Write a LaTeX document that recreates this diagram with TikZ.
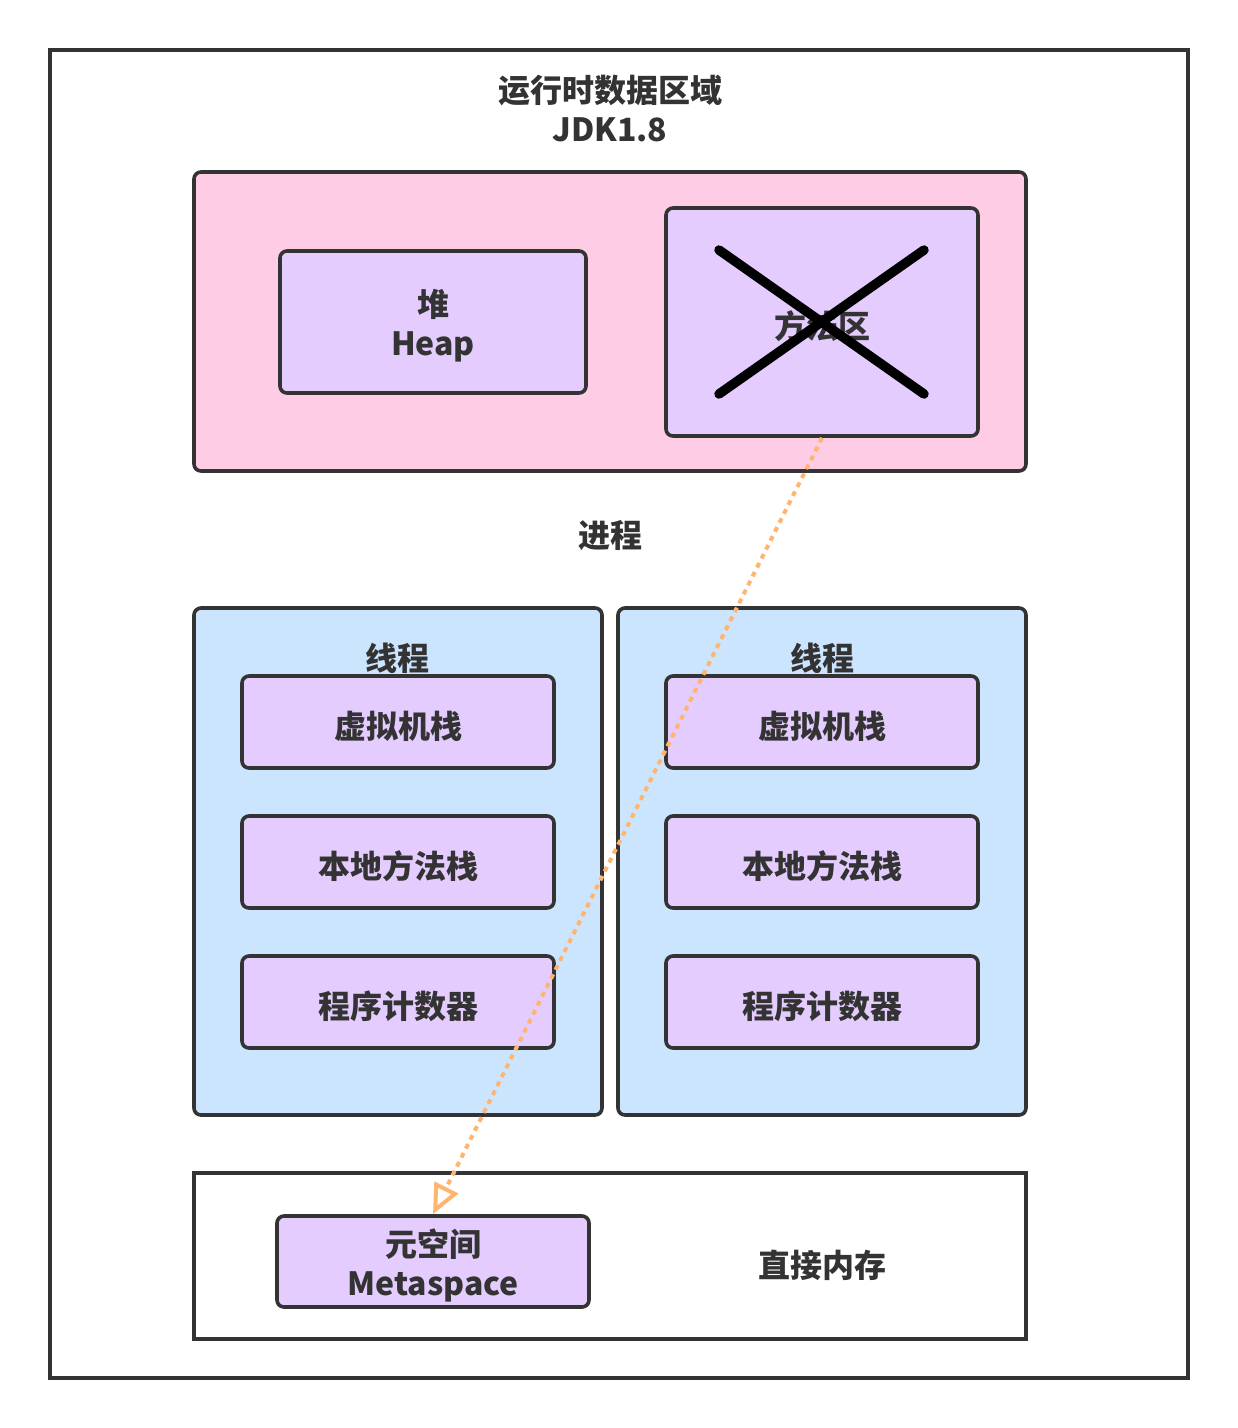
\documentclass[tikz,border=0pt]{standalone}
\usepackage{fontspec}
\setmainfont{Noto Sans CJK SC}
\usetikzlibrary{arrows.meta}
\definecolor{ink}{HTML}{333333}
\definecolor{pinkfill}{HTML}{FFCCE6}
\definecolor{purplefill}{HTML}{E5CCFF}
\definecolor{bluefill}{HTML}{CCE5FF}
\definecolor{arrowcol}{HTML}{FFB570}
\tikzset{
  lbl/.style={text=ink, font=\fontsize{32}{39}\selectfont\bfseries, align=center},
  boxbase/.style={draw=ink, line width=3.6pt, inner sep=0pt},
  purplebox/.style={boxbase, fill=purplefill, rounded corners=7pt},
  pinkbox/.style={boxbase, fill=pinkfill, rounded corners=7pt},
  bluebox/.style={boxbase, fill=bluefill, rounded corners=7pt},
  plainbox/.style={boxbase, fill=white},
  boxtext/.style={label={[lbl, yshift=-4pt]center:#1}},
  crossline/.style={line width=9.5pt, line cap=round, black},
  metaarrow/.style={draw=arrowcol, line width=4pt, dash pattern=on 5pt off 5pt,
    -{Triangle[open, length=30pt, width=26pt, line width=4pt]}}
}
\begin{document}
\begin{tikzpicture}[x=1pt,y=-1pt]
\useasboundingbox (0,0) rectangle (1238,1428);
\fill[white] (0,0) rectangle (1238,1428);
% outer frame
\node[plainbox, minimum width=1138pt, minimum height=1328pt] (outer) at (619,714) {};
\node[lbl] (title) at (610,109) {运行时数据区域\\JDK1.8};
% heap region
\node[pinkbox, minimum width=832pt, minimum height=299pt] (heaparea) at (610,321.5) {};
\node[purplebox, minimum width=306pt, minimum height=142pt, boxtext={堆\\Heap}] (heap) at (433,322) {};
\node[purplebox, minimum width=312pt, minimum height=228pt, boxtext={方法区}] (method) at (822,322) {};
\coordinate (c1) at (719,250);
\coordinate (c2) at (924,394);
\coordinate (c3) at (924,250);
\coordinate (c4) at (719,394);
\draw[crossline] (c1) -- (c2);
\draw[crossline] (c3) -- (c4);
\node[lbl] (proc) at (610,536) {进程};
% threads
\node[bluebox, minimum width=408pt, minimum height=507pt] (tl) at (398,861.5) {};
\node[bluebox, minimum width=408pt, minimum height=507pt] (tr) at (822,861.5) {};
\node[lbl] (tll) at (397,658) {线程};
\node[lbl] (trl) at (822,658) {线程};
\node[purplebox, minimum width=312pt, minimum height=92pt, boxtext={虚拟机栈}] (vl) at (398,722) {};
\node[purplebox, minimum width=312pt, minimum height=92pt, boxtext={本地方法栈}] (nl) at (398,862) {};
\node[purplebox, minimum width=312pt, minimum height=92pt, boxtext={程序计数器}] (pl) at (398,1002) {};
\node[purplebox, minimum width=312pt, minimum height=92pt, boxtext={虚拟机栈}] (vr) at (822,722) {};
\node[purplebox, minimum width=312pt, minimum height=92pt, boxtext={本地方法栈}] (nr) at (822,862) {};
\node[purplebox, minimum width=312pt, minimum height=92pt, boxtext={程序计数器}] (pr) at (822,1002) {};
% direct memory
\node[plainbox, minimum width=832pt, minimum height=166pt] (direct) at (610,1256) {};
\node[purplebox, minimum width=312pt, minimum height=91pt, boxtext={元空间\\Metaspace}] (meta) at (433,1261.5) {};
\node[lbl] (dm) at (822,1265) {直接内存};
% arrow
\draw[metaarrow] (method.south) -- (meta.north);
\end{tikzpicture}
\end{document}
